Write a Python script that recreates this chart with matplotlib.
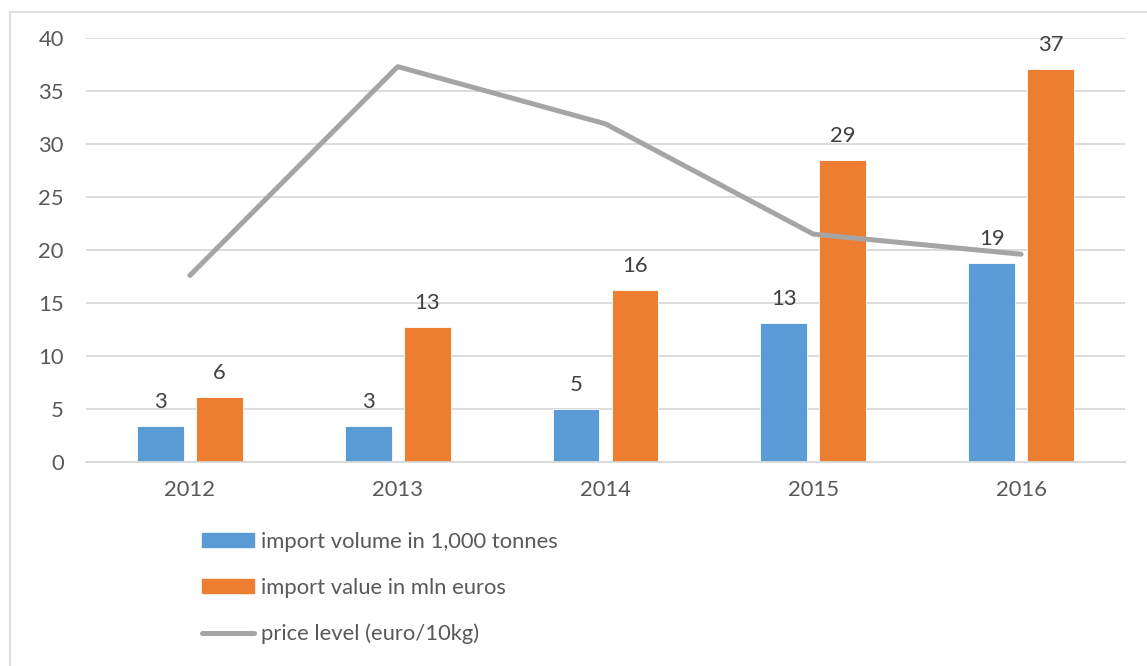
import matplotlib
matplotlib.use("Agg")
import matplotlib.pyplot as plt
from matplotlib.patches import Rectangle
from matplotlib.lines import Line2D
from matplotlib.patches import Patch
import numpy as np

years = ["2012", "2013", "2014", "2015", "2016"]
import_volume = [3.4, 3.35, 5.0, 13.1, 18.8]
import_value = [6.1, 12.7, 16.2, 28.5, 37.1]
price_level = [17.6, 37.3, 31.9, 21.5, 19.6]

labels = ["import volume in 1,000 tonnes", "import value in mln euros", "price level (euro/10kg)"]

BLUE = "#5b9bd5"
ORANGE = "#ed7d31"
GRAY = "#a5a5a5"
TEXT = "#595959"
GRID = "#d9d9d9"

plt.rcParams['font.family'] = ['Lato', 'DejaVu Sans']

W, H = 1147, 666
fig = plt.figure(figsize=(W / 100, H / 100), dpi=100)
fig.patch.set_facecolor("white")

# outer chart border
fig.patches.append(Rectangle((10 / W, -0.05), 1.2, 1 - 12 / H + 0.05, transform=fig.transFigure,
                             fill=False, edgecolor=GRID, linewidth=1.2))

ax = fig.add_axes([86 / W, 1 - 462 / H, (1125 - 86) / W, (462 - 38) / H])
x = np.arange(len(years))
bw = 0.226
off = 0.142
ax.bar(x - off, import_volume, bw, color=BLUE, edgecolor="white", linewidth=0.6, zorder=2)
ax.bar(x + off, import_value, bw, color=ORANGE, edgecolor="white", linewidth=0.6, zorder=2)
ax.plot(x, price_level, color=GRAY, linewidth=3.6, solid_capstyle="round", zorder=3)

fs = 15.8


def fmt(v):
    return f"{int(v + 0.5):d}"


for xi, v in zip(x - off, import_volume):
    ax.annotate(fmt(v), (xi, v), xytext=(0, 24 * 0.72), textcoords="offset points",
                ha="center", va="center", fontsize=fs, color="#404040")
for xi, v in zip(x + off, import_value):
    ax.annotate(fmt(v), (xi, v), xytext=(0, 24 * 0.72), textcoords="offset points",
                ha="center", va="center", fontsize=fs, color="#404040")

ax.set_xlim(-0.5, 4.5)
ax.set_ylim(0, 40)
ax.set_yticks(range(0, 41, 5))
ax.set_xticks(x)
ax.set_xticklabels(years)
ax.tick_params(axis="both", length=0, labelsize=fs, colors=TEXT)
ax.tick_params(axis="y", pad=16)
ax.tick_params(axis="x", pad=13)
ax.grid(axis="y", color=GRID, linewidth=1.3, zorder=0)
ax.set_axisbelow(True)
for s in ["top", "right", "left"]:
    ax.spines[s].set_visible(False)
ax.spines["bottom"].set_color(GRID)
ax.spines["bottom"].set_linewidth(1.3)

handles = [Patch(facecolor=BLUE, edgecolor=BLUE), Patch(facecolor=ORANGE, edgecolor=ORANGE),
           Line2D([0], [0], color=GRAY, linewidth=3.6, solid_capstyle="round")]
fig.legend(handles, labels, loc="upper left", bbox_to_anchor=(202 / W, 1 - 532 / H),
           frameon=False, fontsize=fs, labelcolor=TEXT, borderpad=0, borderaxespad=0,
           handlelength=2.37, handleheight=0.6, handletextpad=0.3, labelspacing=1.17)

fig.savefig("out.png", dpi=100, facecolor="white")
